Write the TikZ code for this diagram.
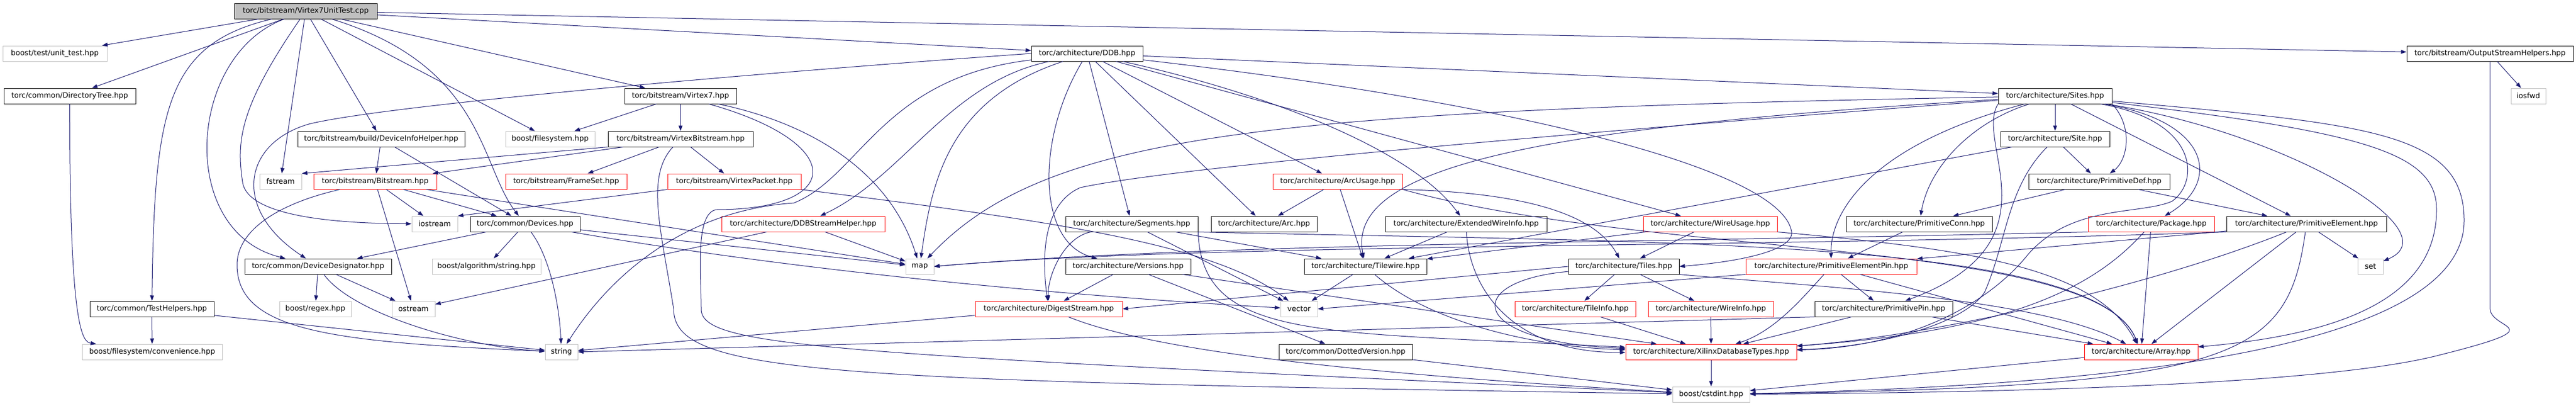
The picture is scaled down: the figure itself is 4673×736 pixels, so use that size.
\documentclass[tikz,border=0pt]{standalone}
\usepackage{fontspec}
\setmainfont{DejaVu Sans}
\usetikzlibrary{arrows.meta}
\definecolor{edgeblue}{HTML}{191970}
\definecolor{boxgray}{HTML}{BFBFBF}

\begin{document}
\begin{tikzpicture}[x=1pt,y=-1pt,
  hdr/.style={draw=black,line width=1pt,fill=white,minimum height=28pt,inner sep=0pt,font=\fontsize{13.33}{16}\selectfont},
  cur/.style={hdr,fill=boxgray},
  sys/.style={hdr,draw=boxgray},
  cut/.style={hdr,draw=red},
  dep/.style={draw=edgeblue,line width=1pt,-{Triangle[length=10pt,width=7pt]}}]
\useasboundingbox (0,0) rectangle (4673,736);

% nodes
\node[cur,minimum width=259pt] (ut) at (554.5,20) {torc/bitstream/Virtex7UnitTest.cpp};

\node[sys,minimum width=189pt] (unittest) at (99.5,97) {boost/test/unit\_test.hpp};
\node[hdr,minimum width=202pt] (ddb) at (1972,97) {torc/architecture/DDB.hpp};
\node[hdr,minimum width=302pt] (osh) at (4517,97) {torc/bitstream/OutputStreamHelpers.hpp};

\node[hdr,minimum width=239pt] (dirtree) at (126.5,174) {torc/common/DirectoryTree.hpp};
\node[hdr,minimum width=203pt] (virtex7) at (1234.5,174) {torc/bitstream/Virtex7.hpp};
\node[hdr,minimum width=206pt] (sites) at (3728,174) {torc/architecture/Sites.hpp};
\node[sys,minimum width=63pt] (iosfwd) at (4586.5,174) {iosfwd};

\node[hdr,minimum width=303pt] (devinfo) at (691.5,252) {torc/bitstream/build/DeviceInfoHelper.hpp};
\node[sys,minimum width=162pt] (fsys) at (998,252) {boost/filesystem.hpp};
\node[hdr,minimum width=263pt] (vbit) at (1234.5,252) {torc/bitstream/VirtexBitstream.hpp};
\node[hdr,minimum width=198pt] (site) at (3728,252) {torc/architecture/Site.hpp};

\node[sys,minimum width=76pt] (fstream) at (509,329) {fstream};
\node[cut,minimum width=223pt] (bitstream) at (680.5,329) {torc/bitstream/Bitstream.hpp};
\node[cut,minimum width=220pt] (frameset) at (1027,329) {torc/bitstream/FrameSet.hpp};
\node[cut,minimum width=242pt] (vpacket) at (1332,329) {torc/bitstream/VirtexPacket.hpp};
\node[cut,minimum width=235pt] (arcusage) at (2426.5,329) {torc/architecture/ArcUsage.hpp};
\node[hdr,minimum width=256pt] (primdef) at (3808,329) {torc/architecture/PrimitiveDef.hpp};

\node[sys,minimum width=83pt] (iostream) at (788.5,406) {iostream};
\node[hdr,minimum width=199pt] (devices) at (952.5,406) {torc/common/Devices.hpp};
\node[cut,minimum width=296pt] (ddbsh) at (1457,406) {torc/architecture/DDBStreamHelper.hpp};
\node[hdr,minimum width=240pt] (segments) at (2053,406) {torc/architecture/Segments.hpp};
\node[hdr,minimum width=192pt] (arc) at (2293,406) {torc/architecture/Arc.hpp};
\node[hdr,minimum width=293pt] (extwire) at (2659.5,406) {torc/architecture/ExtendedWireInfo.hpp};
\node[cut,minimum width=243pt] (wireusage) at (3102.5,406) {torc/architecture/WireUsage.hpp};
\node[hdr,minimum width=265pt] (primconn) at (3481.5,406) {torc/architecture/PrimitiveConn.hpp};
\node[cut,minimum width=229pt] (package) at (3902.5,406) {torc/architecture/Package.hpp};
\node[hdr,minimum width=290pt] (primelem) at (4184,406) {torc/architecture/PrimitiveElement.hpp};

\node[hdr,minimum width=266pt] (devdes) at (577,483) {torc/common/DeviceDesignator.hpp};
\node[sys,minimum width=197pt] (algstr) at (882.5,483) {boost/algorithm/string.hpp};
\node[sys,minimum width=51pt] (map) at (1668.5,483) {map};
\node[hdr,minimum width=227pt] (versions) at (2046.5,483) {torc/architecture/Versions.hpp};
\node[hdr,minimum width=222pt] (tilewire) at (2477,483) {torc/architecture/Tilewire.hpp};
\node[hdr,minimum width=201pt] (tiles) at (2945.5,483) {torc/architecture/Tiles.hpp};
\node[cut,minimum width=310pt] (pep) at (3322,483) {torc/architecture/PrimitiveElementPin.hpp};
\node[sys,minimum width=46pt] (set) at (4300,483) {set};

\node[hdr,minimum width=225pt] (testhelp) at (275.5,560) {torc/common/TestHelpers.hpp};
\node[sys,minimum width=130pt] (regex) at (572,560) {boost/regex.hpp};
\node[sys,minimum width=78pt] (ostream) at (750,560) {ostream};
\node[cut,minimum width=267pt] (digest) at (1902.5,560) {torc/architecture/DigestStream.hpp};
\node[sys,minimum width=67pt] (vector) at (2356.5,560) {vector};
\node[cut,minimum width=219pt] (tileinfo) at (2857.5,560) {torc/architecture/TileInfo.hpp};
\node[cut,minimum width=227pt] (wireinfo) at (3103.5,560) {torc/architecture/WireInfo.hpp};
\node[hdr,minimum width=250pt] (primpin) at (3417,560) {torc/architecture/PrimitivePin.hpp};

\node[sys,minimum width=254pt] (conv) at (276,638) {boost/filesystem/convenience.hpp};
\node[sys,minimum width=59pt] (string) at (1018.5,638) {string};
\node[hdr,minimum width=242pt] (dotted) at (2441,638) {torc/common/DottedVersion.hpp};
\node[cut,minimum width=310pt] (xdt) at (3104,638) {torc/architecture/XilinxDatabaseTypes.hpp};
\node[cut,minimum width=206pt] (array) at (3884,638) {torc/architecture/Array.hpp};

\node[sys,minimum width=140pt] (cstdint) at (3104,715) {boost/cstdint.hpp};

% edges
\draw[dep] (ut) -- (unittest);
\draw[dep] (ut) -- (dirtree);
\draw[dep] (ut) .. controls (300,80) and (280,200) .. (testhelp);
\draw[dep] (ut) .. controls (340,100) and (320,420) .. (devdes);
\draw[dep] (ut) .. controls (430,200) and (430,260) .. (440,330) .. controls (450,400) and (650,405) .. (iostream);
\draw[dep] (ut) -- (fstream);
\draw[dep] (ut) -- (devinfo);
\draw[dep] (ut) .. controls (880,120) and (870,300) .. (devices);
\draw[dep] (ut) -- (fsys);
\draw[dep] (ut) -- (virtex7);
\draw[dep] (ut) -- (ddb);
\draw[dep] (ut) -- (osh);

\draw[dep] (dirtree) .. controls (126,600) and (150,620) .. (conv);
\draw[dep] (testhelp) -- (conv);
\draw[dep] (testhelp) -- (string);
\draw[dep] (devinfo) -- (bitstream);
\draw[dep] (devinfo) -- (devices);
\draw[dep] (bitstream) -- (iostream);
\draw[dep] (bitstream) -- (ostream);
\draw[dep] (bitstream) .. controls (500,370) and (430,420) .. (430,480) .. controls (430,600) and (600,620) .. (string);
\draw[dep] (bitstream) -- (devices);
\draw[dep] (bitstream) -- (map);
\draw[dep] (devdes) -- (regex);
\draw[dep] (devdes) -- (ostream);
\draw[dep] (devdes) .. controls (640,570) and (850,630) .. (string);
\draw[dep] (devices) -- (devdes);
\draw[dep] (devices) -- (algstr);
\draw[dep] (devices) .. controls (1000,470) and (1015,560) .. (string);
\draw[dep] (devices) -- (map);
\draw[dep] (devices) .. controls (1500,500) and (2000,540) .. (vector);

\draw[dep] (virtex7) -- (fsys);
\draw[dep] (virtex7) -- (vbit);
\draw[dep] (virtex7) .. controls (1500,230) and (1620,330) .. (map);
\draw[dep] (virtex7) .. controls (1540,260) and (1530,380) .. (1300,380) .. controls (1260,385) and (1272,500) .. (1272,560) .. controls (1272,630) and (1500,640) .. (cstdint);
\draw[dep] (vbit.south west) -- (fstream.north east);
\draw[dep] (vbit) -- (bitstream);
\draw[dep] (vbit) -- (frameset);
\draw[dep] (vbit) -- (vpacket);
\draw[dep] (vbit) .. controls (1170,320) and (1200,420) .. (1222,560) .. controls (1222,680) and (1500,690) .. (cstdint);
\draw[dep] (vpacket.south west) -- (iostream.north east);
\draw[dep] (vpacket.south east) .. controls (1900,400) and (2200,440) .. (vector);

\draw[dep] (ddb.west) .. controls (1400,130) and (700,190) .. (560,225) .. controls (440,260) and (420,380) .. (devdes);
\draw[dep] (ddb) .. controls (1600,140) and (1560,320) .. (1440,368) .. controls (1260,380) and (1120,480) .. (string);
\draw[dep] (ddb) .. controls (1720,150) and (1640,320) .. (ddbsh);
\draw[dep] (ddb) .. controls (1720,180) and (1690,330) .. (map);
\draw[dep] (ddb) .. controls (1880,250) and (1880,440) .. (versions);
\draw[dep] (ddb) -- (segments);
\draw[dep] (ddb) -- (arc);
\draw[dep] (ddb) -- (arcusage);
\draw[dep] (ddb) .. controls (2300,170) and (2560,270) .. (extwire);
\draw[dep] (ddb) .. controls (2700,180) and (3230,300) .. (3250,420) .. controls (3255,455) and (3150,475) .. (tiles.east);
\draw[dep] (ddb) -- (wireusage);
\draw[dep] (ddb) -- (sites);

\draw[dep] (ddbsh) -- (map);
\draw[dep] (ddbsh) -- (ostream);
\draw[dep] (arcusage) -- (arc);
\draw[dep] (arcusage) -- (tilewire);
\draw[dep] (arcusage.south east) .. controls (2800,350) and (2900,400) .. (tiles);
\draw[dep] (arcusage.south east) .. controls (3000,470) and (3800,430) .. (array);
\draw[dep] (extwire) -- (tilewire);
\draw[dep] (extwire) .. controls (2665,520) and (2740,640) .. (xdt);
\draw[dep] (wireusage) -- (tilewire);
\draw[dep] (wireusage) -- (tiles);
\draw[dep] (wireusage.south east) .. controls (3550,450) and (3800,480) .. (array);
\draw[dep] (segments) .. controls (1930,430) and (1900,500) .. (digest);
\draw[dep] (segments) -- (vector);
\draw[dep] (segments) -- (tilewire);
\draw[dep] (segments.south east) .. controls (2180,620) and (2400,600) .. (xdt);
\draw[dep] (segments.south east) .. controls (3000,440) and (3800,430) .. (array);
\draw[dep] (versions) -- (digest);
\draw[dep] (versions) -- (dotted);
\draw[dep] (versions) -- (xdt);
\draw[dep] (tilewire) -- (vector);
\draw[dep] (tilewire) .. controls (2600,590) and (2800,630) .. (xdt);
\draw[dep] (tiles.west) -- (digest.east);
\draw[dep] (tiles) -- (tileinfo);
\draw[dep] (tiles) -- (wireinfo);
\draw[dep] (tiles) .. controls (2650,510) and (2660,620) .. (xdt);
\draw[dep] (tiles.south east) .. controls (3300,520) and (3700,540) .. (array);
\draw[dep] (tileinfo) -- (xdt);
\draw[dep] (wireinfo) -- (xdt);
\draw[dep] (digest) -- (string);
\draw[dep] (digest) .. controls (2100,640) and (2500,680) .. (cstdint);
\draw[dep] (dotted) -- (cstdint);
\draw[dep] (xdt) -- (cstdint);
\draw[dep] (array) -- (cstdint);

\draw[dep] (sites) -- (site);
\draw[dep] (sites.south east) .. controls (3870,230) and (3860,290) .. (primdef);
\draw[dep] (sites) .. controls (3580,220) and (3500,300) .. (primconn);
\draw[dep] (sites) .. controls (3400,260) and (3320,380) .. (pep);
\draw[dep] (sites.south west) .. controls (3580,260) and (3740,440) .. (primpin);
\draw[dep] (sites) .. controls (3990,220) and (3990,330) .. (3940,365) .. controls (3880,390) and (3760,370) .. (3680,460) .. controls (3600,560) and (3450,630) .. (xdt);
\draw[dep] (sites) .. controls (4010,220) and (4030,330) .. (package);
\draw[dep] (sites) -- (primelem);
\draw[dep] (sites) .. controls (4150,240) and (4450,420) .. (set);
\draw[dep] (sites) .. controls (4300,240) and (4420,280) .. (4420,380) .. controls (4420,560) and (4200,610) .. (array);
\draw[dep] (sites) .. controls (4300,225) and (4470,240) .. (4470,400) .. controls (4470,640) and (3800,700) .. (cstdint);
\draw[dep] (sites) .. controls (2300,200) and (1900,240) .. (map);
\draw[dep] (sites) .. controls (2600,260) and (2100,310) .. (1960,340) .. controls (1890,370) and (1890,470) .. (digest);
\draw[dep] (sites) .. controls (2800,230) and (2440,300) .. (tilewire);
\draw[dep] (site) -- (primdef);
\draw[dep] (site) .. controls (3640,340) and (3640,440) .. (3600,530) .. controls (3560,590) and (3400,630) .. (xdt);
\draw[dep] (site) -- (tilewire);
\draw[dep] (primdef) -- (primconn);
\draw[dep] (primdef) -- (primelem);
\draw[dep] (primconn) -- (pep);
\draw[dep] (pep) -- (primpin);
\draw[dep] (pep) .. controls (3270,540) and (3220,600) .. (xdt);
\draw[dep] (pep) -- (array);
\draw[dep] (pep.south west) -- (vector.east);
\draw[dep] (primpin) -- (xdt);
\draw[dep] (primpin) -- (array);
\draw[dep] (primpin.south west) -- (string.east);
\draw[dep] (package) .. controls (3800,520) and (3650,600) .. (xdt);
\draw[dep] (package) -- (array);
\draw[dep] (package.south west) .. controls (3000,440) and (2200,440) .. (map.east);
\draw[dep] (primelem) -- (set);
\draw[dep] (primelem) -- (array);
\draw[dep] (primelem) .. controls (3900,520) and (3500,610) .. (xdt);
\draw[dep] (primelem) .. controls (4150,650) and (4060,700) .. (cstdint);
\draw[dep] (primelem) -- (pep);
\draw[dep] (primelem.south west) .. controls (3200,450) and (2200,440) .. (map.east);
\draw[dep] (osh) -- (iosfwd);
\draw[dep] (osh.south) -- (4517,560) .. controls (4520,600) and (4640,590) .. (4420,645) .. controls (4200,700) and (3600,712) .. (cstdint);

\end{tikzpicture}
\end{document}
